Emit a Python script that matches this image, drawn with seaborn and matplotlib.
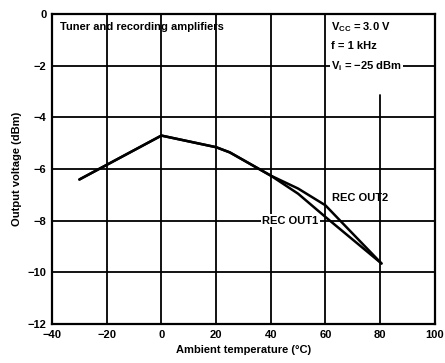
import numpy as np
import pandas as pd
import matplotlib
matplotlib.use("Agg")
import matplotlib.pyplot as plt
import seaborn as sns

# Values
temp_out1 = [-30, 0, 20, 25, 40, 50, 60, 80.5]
volt_out1 = [-6.4, -4.7, -5.15, -5.35, -6.25, -6.95, -7.85, -9.65]
temp_out2 = [-30, 0, 20, 25, 40, 50, 60, 65, 80.5]
volt_out2 = [-6.4, -4.7, -5.15, -5.35, -6.25, -6.75, -7.4, -7.95, -9.65]

x_ticks = [-40, -20, 0, 20, 40, 60, 80, 100]
y_ticks = [0, -2, -4, -6, -8, -10, -12]

df = pd.concat([
    pd.DataFrame({"temp": temp_out1, "volt": volt_out1, "series": "REC OUT1"}),
    pd.DataFrame({"temp": temp_out2, "volt": volt_out2, "series": "REC OUT2"}),
])

sns.set_style("white")
plt.rcParams['font.family'] = ['Liberation Sans', 'DejaVu Sans']
plt.rcParams['text.color'] = 'black'
plt.rcParams['axes.labelcolor'] = 'black'
plt.rcParams['xtick.color'] = 'black'
plt.rcParams['ytick.color'] = 'black'
plt.rcParams['mathtext.fontset'] = 'custom'
plt.rcParams['mathtext.bf'] = 'Liberation Sans:bold'

fig = plt.figure(figsize=(4.45, 3.63), dpi=100)
ax = fig.add_axes([0.117, 0.107, 0.86, 0.854])

# grid lines drawn by hand (x=80 line is hidden behind the condition box)
for yv in y_ticks[1:-1]:
    ax.axhline(yv, color='black', lw=1.3, zorder=1)
for xv in x_ticks[1:-1]:
    top = 1.0 if xv != 80 else 0.74
    ax.axvline(xv, ymax=top, color='black', lw=1.3, zorder=1)

sns.lineplot(data=df, x="temp", y="volt", units="series", estimator=None,
             color='black', lw=1.8, sort=False, ax=ax, zorder=3)

ax.set_xlim(-40, 100)
ax.set_ylim(-12, 0)
ax.set_xticks(x_ticks)
ax.set_yticks(y_ticks)
ax.set_xticklabels([str(v).replace('-', '\u2212') for v in x_ticks], fontsize=8, fontweight='bold')
ax.set_yticklabels([str(v).replace('-', '\u2212') for v in y_ticks], fontsize=8, fontweight='bold')
ax.tick_params(length=0, pad=4)
for s in ax.spines.values():
    s.set_color('black')
    s.set_linewidth(1.6)

ax.set_xlabel("Ambient temperature (\u00b0C)", fontsize=8, fontweight='bold', labelpad=4)
ax.set_ylabel("Output voltage (dBm)", fontsize=8, fontweight='bold', labelpad=4)

bbox = dict(facecolor='white', edgecolor='none', pad=1)
tk = dict(fontsize=8, fontweight='bold', color='black')
ax.text(-37, -0.5, "Tuner and recording amplifiers", va='center', ha='left', **tk)
ax.text(62, -0.5, r"V$_{\mathbf{CC}}$ = 3.0 V", va='center', ha='left', **tk)
ax.text(62, -1.25, "f = 1 kHz", va='center', ha='left', **tk)
ax.text(62, -2.0, "V$_{\\mathbf{i}}$ = \u221225 dBm", va='center', ha='left', bbox=bbox, zorder=4, **tk)
ax.text(62.5, -7.1, "REC OUT2", va='center', ha='left', zorder=4, **tk)
ax.text(57.5, -8.0, "REC OUT1", va='center', ha='right', bbox=bbox, zorder=4, **tk)

if ax.get_legend():
    ax.get_legend().remove()
fig.savefig("out.png", dpi=100)
